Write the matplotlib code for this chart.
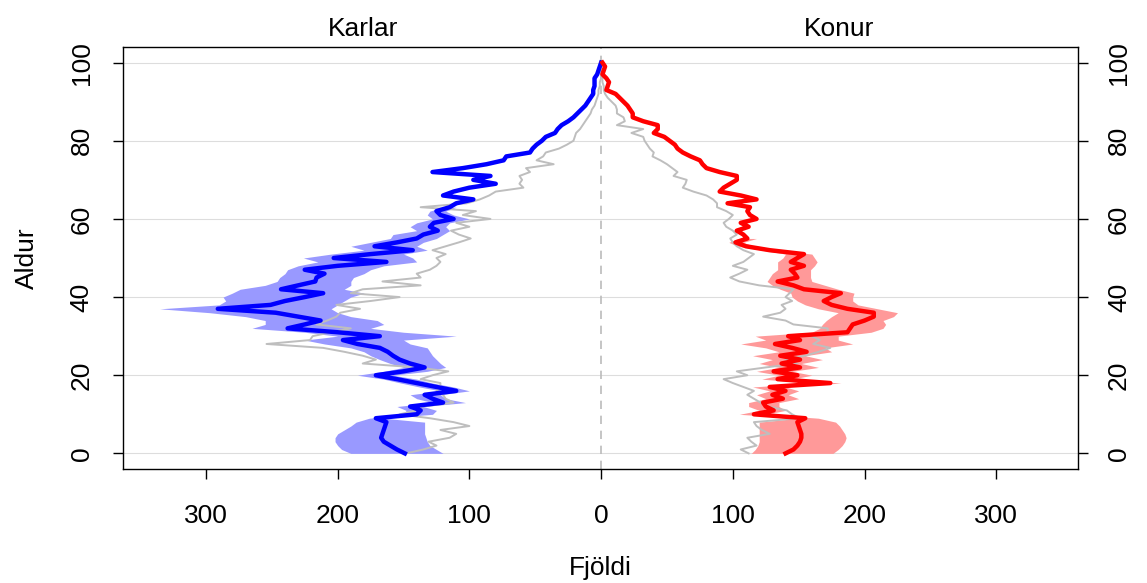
"""Population pyramid: men (Karlar) left, women (Konur) right, with uncertainty bands."""
import numpy as np
import matplotlib.pyplot as plt
import matplotlib as mpl

mpl.rcParams['font.family'] = ['Liberation Sans', 'DejaVu Sans']

ages = np.arange(0, 101)

# Men (Karlar), counts per age 0..100
men_line = [149, 155, 160, 165, 167, 166, 165, 164, 163, 171,
            140, 137, 145, 120, 128, 134, 110, 125, 140, 155,
            171, 150, 134, 145, 153, 158, 162, 168, 185, 196,
            168, 200, 238, 225, 213, 230, 247, 291, 251, 240,
            225, 211, 243, 230, 217, 216, 210, 225, 200, 163,
            203, 175, 143, 172, 155, 140, 135, 124, 130, 127,
            112, 122, 125, 115, 110, 97, 120, 112, 100, 80,
            97, 84, 128, 105, 87, 74, 72, 54, 52, 49,
            45, 42, 35, 33, 30, 25, 21, 18, 15, 12,
            10, 8, 6, 6, 5, 5, 5, 3, 2, 1, 0]
men_ref = [148, 135, 125, 131, 115, 110, 122, 100, 112, 130,
           153, 140, 135, 112, 118, 120, 125, 122, 122, 137,
           128, 116, 140, 181, 171, 181, 195, 211, 254, 221,
           219, 205, 190, 216, 208, 201, 198, 183, 201, 175,
           153, 190, 181, 137, 166, 137, 140, 130, 125, 122,
           125, 118, 128, 118, 108, 99, 108, 114, 100, 110,
           84, 105, 95, 137, 102, 92, 85, 80, 59, 62,
           60, 62, 54, 57, 36, 49, 44, 42, 32, 26,
           21, 20, 19, 16, 14, 12, 10, 8, 7, 5,
           4, 3, 2, 2, 1, 1, 0, 0, 0, 0, 0]
# band ages 0..63: outer (far from 0) and inner (near 0)
men_outer = [190, 197, 200, 202, 202, 200, 195, 190, 186, 176,
             150, 148, 155, 128, 140, 145, 122, 138, 152, 165,
             185, 165, 150, 160, 168, 175, 180, 190, 210, 225,
             200, 225, 265, 255, 255, 270, 297, 335, 290, 285,
             287, 280, 274, 255, 246, 244, 240, 238, 230, 215,
             226, 205, 180, 190, 175, 160, 158, 140, 145, 140,
             128, 132, 130, 120]
men_inner = [120, 125, 130, 132, 133, 134, 134, 134, 134, 165,
             128, 125, 135, 103, 118, 122, 100, 112, 128, 140,
             158, 132, 118, 122, 125, 128, 130, 132, 145, 150,
             110, 150, 175, 165, 170, 190, 200, 205, 200, 195,
             190, 180, 195, 190, 190, 188, 180, 175, 165, 140,
             143, 150, 132, 140, 135, 125, 120, 115, 118, 115,
             100, 112, 118, 110]

# Women (Konur), counts per age 0..100
women_line = [140, 146, 149, 151, 152, 152, 151, 150, 149, 155,
              116, 131, 125, 123, 138, 130, 140, 128, 174, 134,
              149, 131, 151, 137, 151, 136, 156, 145, 132, 151,
              142, 187, 189, 191, 200, 207, 207, 187, 175, 169,
              175, 182, 154, 146, 134, 149, 147, 144, 154, 144,
              149, 154, 128, 110, 102, 111, 108, 103, 112, 106,
              118, 113, 111, 113, 96, 118, 106, 90, 93, 98,
              103, 103, 90, 80, 77, 75, 68, 62, 58, 56,
              52, 48, 40, 43, 43, 32, 24, 24, 22, 20,
              17, 14, 11, 4, 5, 6, 4, 1, 2, 3, 1]
women_ref = [112, 106, 118, 114, 111, 128, 122, 118, 116, 151,
             145, 141, 126, 121, 116, 111, 116, 108, 100, 93,
             111, 103, 125, 149, 140, 155, 165, 174, 161, 166,
             160, 172, 172, 146, 140, 123, 136, 140, 137, 145,
             140, 143, 146, 120, 105, 98, 105, 111, 100, 108,
             112, 116, 108, 103, 100, 98, 103, 100, 95, 93,
             97, 100, 95, 88, 88, 85, 80, 70, 62, 64,
             65, 55, 58, 54, 50, 45, 39, 40, 37, 35,
             33, 32, 23, 32, 12, 18, 17, 12, 12, 11,
             8, 5, 3, 2, 2, 1, 1, 0, 0, 0, 0]
# band ages 0..55
women_inner = [114, 117, 119, 120, 120, 120, 120, 120, 120, 150,
               105, 120, 112, 112, 125, 118, 128, 115, 160, 122,
               135, 118, 135, 120, 130, 115, 135, 125, 106, 125,
               117, 160, 166, 168, 171, 175, 180, 165, 155, 149,
               145, 144, 136, 130, 126, 128, 130, 134, 134, 134,
               138, 140, 122, 104, 97, 104]
women_outer = [176, 180, 183, 185, 186, 185, 183, 181, 178, 165,
               125, 140, 135, 135, 150, 142, 150, 140, 182, 145,
               160, 145, 165, 152, 168, 155, 175, 170, 191, 180,
               180, 205, 214, 216, 214, 222, 225, 210, 195, 191,
               191, 192, 180, 170, 160, 159, 159, 159, 162, 164,
               162, 160, 134, 116, 108, 118]

fig = plt.figure(figsize=(11.47, 5.83), dpi=100)
ax = fig.add_axes([0.1072, 0.1955, 0.8326, 0.7239])

for y in range(0, 101, 20):
    ax.axhline(y, color='#DDDDDD', lw=0.8, zorder=0)
ax.axvline(0, color='#BBBBBB', lw=1.2, ls=(0, (5, 4)), zorder=1)

nm = len(men_outer)
ax.fill_betweenx(ages[:nm], -np.array(men_outer), -np.array(men_inner),
                 color='#9999FF', lw=0, zorder=2)
nw = len(women_outer)
ax.fill_betweenx(ages[:nw], women_inner, women_outer,
                 color='#FF9999', lw=0, zorder=2)

ax.plot(-np.array(men_ref), ages, color='#BEBEBE', lw=1.4, zorder=3)
ax.plot(women_ref, ages, color='#BEBEBE', lw=1.4, zorder=3)
ax.plot(-np.array(men_line), ages, color='#0000FF', lw=3.2, zorder=4)
ax.plot(women_line, ages, color='#FF0000', lw=3.2, zorder=4)

ax.set_xlim(-363, 362)
ax.set_ylim(-4, 104)
xt = [-300, -200, -100, 0, 100, 200, 300]
ax.set_xticks(xt)
ax.set_xticklabels([str(abs(v)) for v in xt], fontsize=19)
ax.set_yticks(range(0, 101, 20))
ax.set_yticklabels([str(v) for v in range(0, 101, 20)], fontsize=19, rotation=90, va='center')
ax.tick_params(axis='both', direction='out', length=7, width=1, pad=6)
ax.tick_params(axis='y', right=True, labelright=True, pad=14)
ax.tick_params(axis='x', pad=18)
for lab in ax.get_yticklabels(which='both'):
    lab.set_rotation(90)
for s in ax.spines.values():
    s.set_linewidth(1)

ax.set_xlabel('Fjöldi', fontsize=19, labelpad=20)
ax.set_ylabel('Aldur', fontsize=19, labelpad=22)
ax.text(-181, 105.5, 'Karlar', ha='center', va='bottom', fontsize=19)
ax.text(181, 105.5, 'Konur', ha='center', va='bottom', fontsize=19)

fig.savefig('out.png', dpi=100)
